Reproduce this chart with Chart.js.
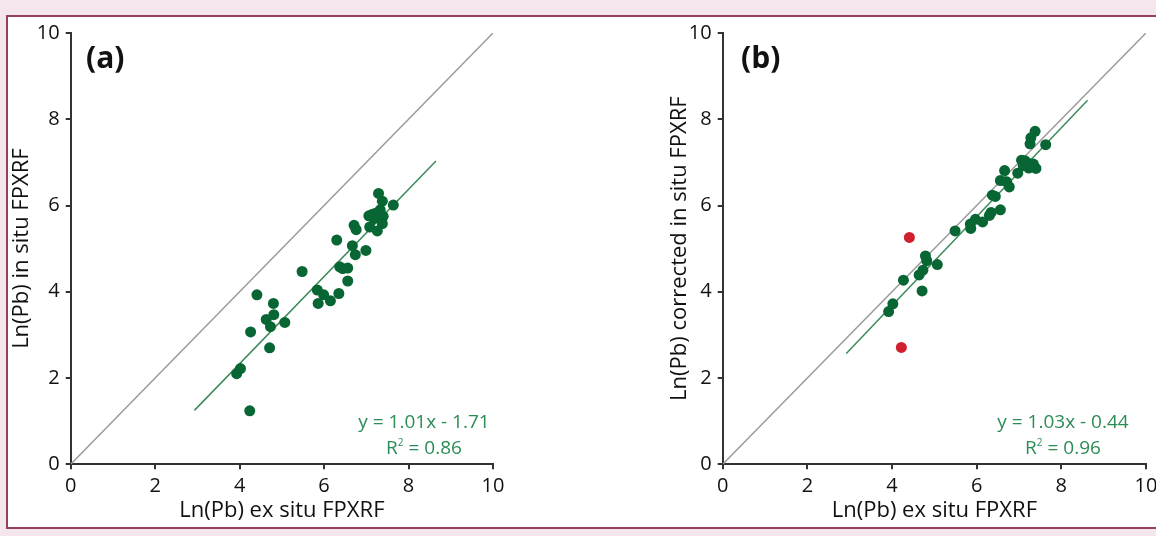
<!DOCTYPE html>
<html>
<head>
<meta charset="utf-8">
<script src="https://cdn.jsdelivr.net/npm/chart.js@4"></script>
<style>
    html, body { margin: 0; padding: 0; }
    body {
        width: 1156px;
        height: 536px;
        overflow: hidden;
        background: #f4e6ec;
        position: relative;
        font-family: 'Open Sans', sans-serif;
    }
    .frame {
        position: absolute;
        left: 6px;
        top: 15px;
        width: 1200px;
        height: 510px;
        border: 2px solid #94405f;
        background: #ffffff;
    }
    canvas { position: absolute; top: 0; }
    .panel-label {
        position: absolute;
        font-weight: 700;
        font-size: 30px;
        color: #111;
        line-height: 1;
    }
    .eq {
        position: absolute;
        width: 200px;
        text-align: center;
        color: #2c8c55;
        font-size: 19px;
        line-height: 26px;
    }
    .eq sup { font-size: 10px; vertical-align: 8px; line-height: 0; }
</style>
</head>
<body>
<div class="frame"></div>
<div style="position:absolute;left:0;top:0;width:578px;height:536px;">
    <canvas id="chartA" width="578" height="536" style="left:0"></canvas>
</div>
<div style="position:absolute;left:578px;top:0;width:640px;height:536px;">
    <canvas id="chartB" width="640" height="536" style="left:0"></canvas>
</div>
<div class="panel-label" style="left:86px;top:42px;">(a)</div>
<div class="panel-label" style="left:741px;top:42px;">(b)</div>
<div class="eq" style="left:324px;top:408px;">y = 1.01x - 1.71<br>R<sup>2</sup> = 0.86</div>
<div class="eq" style="left:963px;top:408px;">y = 1.03x - 0.44<br>R<sup>2</sup> = 0.96</div>

<script>
// Panel (a): ex situ vs in situ FPXRF
const exSituA = [7.29, 7.38, 7.64, 7.33, 7.06, 7.15, 7.22, 7.40, 7.18, 7.38, 7.08, 7.26, 6.71, 6.76, 6.30, 6.67, 6.99, 6.74, 5.48, 6.37,
                 6.44, 6.56, 6.56, 5.84, 5.99, 6.35, 6.15, 5.86, 4.41, 4.80, 4.81, 4.63, 5.07, 4.73, 4.26, 4.71, 3.93, 4.02, 4.24];
const inSituA = [6.28, 6.10, 6.01, 5.90, 5.76, 5.80, 5.82, 5.75, 5.70, 5.58, 5.50, 5.41, 5.54, 5.44, 5.20, 5.07, 4.96, 4.86, 4.47, 4.58,
                 4.54, 4.55, 4.25, 4.04, 3.93, 3.96, 3.79, 3.73, 3.93, 3.73, 3.47, 3.36, 3.29, 3.19, 3.07, 2.70, 2.10, 2.22, 1.24];

// Panel (b): ex situ vs corrected in situ FPXRF
const exSituB = [7.38, 7.28, 7.26, 7.63, 7.06, 7.14, 7.22, 7.34, 7.40, 7.23, 7.10, 6.97, 6.66, 6.56, 6.71, 6.77, 6.37, 6.44, 6.56, 6.34,
                 6.30, 6.14, 5.97, 5.85, 5.86, 5.49, 4.79, 4.82, 5.07, 4.73, 4.64, 4.27, 4.71, 4.02, 3.92];
const correctedB = [7.72, 7.57, 7.43, 7.41, 7.05, 7.04, 6.98, 6.96, 6.86, 6.87, 6.92, 6.75, 6.81, 6.58, 6.55, 6.43, 6.24, 6.21, 5.90, 5.84,
                    5.77, 5.62, 5.68, 5.57, 5.47, 5.41, 4.83, 4.72, 4.63, 4.50, 4.39, 4.27, 4.02, 3.72, 3.54];
// outliers shown in red
const outlierX = [4.41, 4.22];
const outlierY = [5.26, 2.71];

// 1:1 line and regression line end points
const oneToOneX = [0, 10];
const oneToOneY = [0, 10];
const fitAX = [2.93, 8.65];
const fitAY = [1.25, 7.03];
const fitBX = [2.92, 8.62];
const fitBY = [2.57, 8.44];

// axis ticks
const tickValues = [0, 2, 4, 6, 8, 10];

const FONT = 'Open Sans';

function pairs(xs, ys) {
    return xs.map((x, i) => ({ x: x, y: ys[i] }));
}

function makePanel(id, opts) {
    const ctx = document.getElementById(id).getContext('2d');
    new Chart(ctx, {
        type: 'scatter',
        data: {
            datasets: opts.datasets
        },
        options: {
            responsive: false,
            animation: false,
            events: [],
            layout: {
                padding: { left: opts.padLeft, top: 33, right: opts.padRight, bottom: 11.8 }
            },
            scales: {
                x: {
                    type: 'linear',
                    min: 0,
                    max: 10,
                    afterBuildTicks: function (axis) {
                        axis.ticks = tickValues.map(v => ({ value: v }));
                    },
                    afterFit: function (axis) { axis.height = 59.9; },
                    grid: { drawOnChartArea: false, drawTicks: true, tickLength: 5, color: '#333', lineWidth: 2 },
                    border: { color: '#333', width: 2 },
                    ticks: { color: '#111', padding: 5, maxRotation: 0, font: { family: FONT, size: 20 } },
                    title: {
                        display: true,
                        text: 'Ln(Pb) ex situ FPXRF',
                        color: '#111',
                        padding: 0,
                        font: { family: FONT, size: 22 }
                    }
                },
                y: {
                    type: 'linear',
                    min: 0,
                    max: 10,
                    afterBuildTicks: function (axis) {
                        axis.ticks = tickValues.map(v => ({ value: v }));
                    },
                    afterFit: function (axis) { axis.width = opts.yWidth; },
                    grid: { drawOnChartArea: false, drawTicks: true, tickLength: 5, color: '#333', lineWidth: 2 },
                    border: { color: '#333', width: 2 },
                    ticks: { color: '#111', padding: 6, font: { family: FONT, size: 20 } },
                    title: {
                        display: true,
                        text: opts.yTitle,
                        color: '#111',
                        padding: 0,
                        font: { family: FONT, size: 22 }
                    }
                }
            },
            plugins: {
                legend: { display: false },
                tooltip: { enabled: false }
            }
        }
    });
}

function lineSet(xs, ys, color, order) {
    return {
        data: pairs(xs, ys),
        showLine: true,
        borderColor: color,
        borderWidth: 1.5,
        pointRadius: 0,
        order: order
    };
}

function pointSet(xs, ys, color) {
    return {
        data: pairs(xs, ys),
        backgroundColor: color,
        borderWidth: 0,
        pointRadius: 5.5,
        order: 0
    };
}

makePanel('chartA', {
    padLeft: 8.8,
    padRight: 85,
    yWidth: 61.9,
    yTitle: 'Ln(Pb) in situ FPXRF',
    datasets: [
        pointSet(exSituA, inSituA, '#076633'),
        lineSet(fitAX, fitAY, '#3b8a5a', 1),
        lineSet(oneToOneX, oneToOneY, '#9a9a9a', 2)
    ]
});

makePanel('chartB', {
    padLeft: 88.8,
    padRight: 72,
    yWidth: 55.9,
    yTitle: 'Ln(Pb) corrected in situ FPXRF',
    datasets: [
        pointSet(exSituB, correctedB, '#076633'),
        pointSet(outlierX, outlierY, '#d0202e'),
        lineSet(fitBX, fitBY, '#3b8a5a', 1),
        lineSet(oneToOneX, oneToOneY, '#9a9a9a', 2)
    ]
});
</script>
</body>
</html>
